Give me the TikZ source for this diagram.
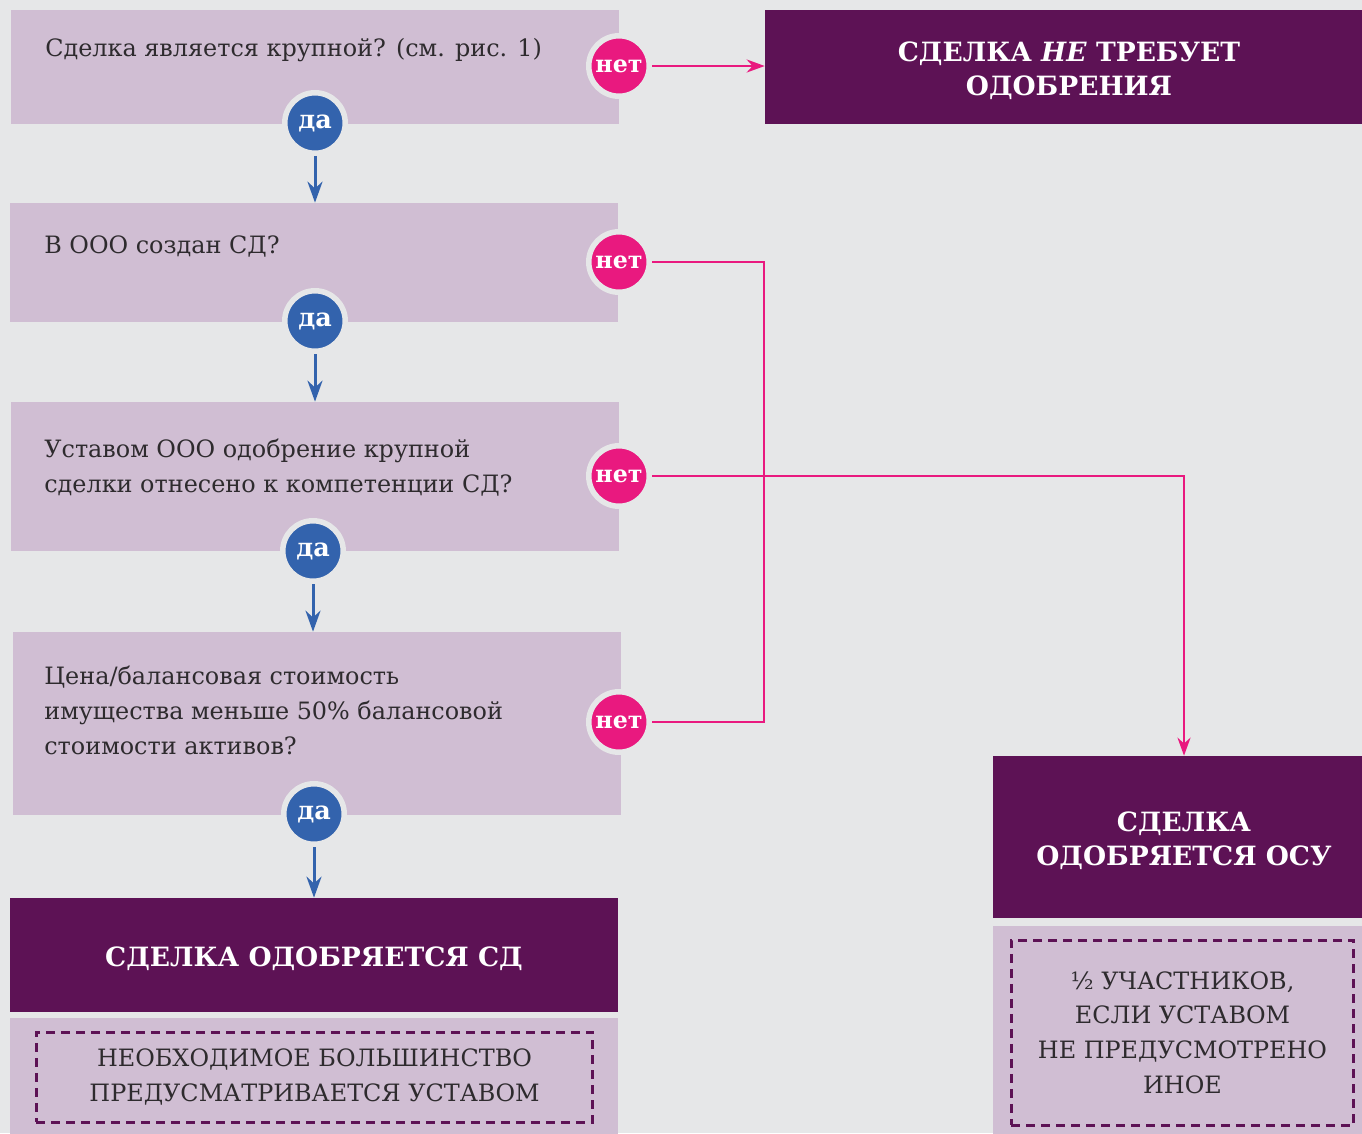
\documentclass[tikz,border=0pt]{standalone}
\usepackage{fontspec}
\setmainfont{DejaVu Serif}
\usetikzlibrary{arrows.meta}
\usetikzlibrary{positioning}
\definecolor{bggray}{HTML}{E6E7E8}
\definecolor{lilac}{HTML}{D0BED3}
\definecolor{plum}{HTML}{5D1255}
\definecolor{rosered}{HTML}{E9197F}
\definecolor{yesblue}{HTML}{3363AD}
\definecolor{ink}{HTML}{2E2B2E}

\begin{document}
\begin{tikzpicture}[x=0.02cm, y=-0.02cm,
	qbox/.style={fill=lilac, minimum width=12.16cm, inner sep=0},
	qtext/.style={anchor=west, align=left, text=ink, inner sep=0, font=\fontsize{13.6}{19.9}\selectfont},
	rbox/.style={fill=plum, minimum width=12.16cm, inner sep=0},
	rtext/.style={text=white, align=center, inner sep=0, yshift=-0.08cm, font=\bfseries\fontsize{15.1}{19.4}\selectfont},
	notebox/.style={draw=plum, line width=0.06cm, dash pattern=on 0.18cm off 0.12cm, text=ink, align=center, font=\fontsize{13.6}{19.8}\selectfont},
	nobtn/.style={circle, fill=rosered, draw=bggray, line width=0.11cm, minimum size=1.21cm, inner sep=0, text=white, font=\bfseries\fontsize{13.5}{13}\selectfont},
	yesbtn/.style={nobtn, fill=yesblue, font=\bfseries\fontsize{14.5}{13}\selectfont},
	noline/.style={draw=rosered, line width=0.05cm},
	yesline/.style={draw=yesblue, line width=0.06cm, -{Stealth[length=0.42cm, width=0.3cm]}}]
	\useasboundingbox (0,0) rectangle (1362,1133);
	\clip (0,0) rectangle (1362,1133);
	\fill[bggray] (0,0) rectangle (1362,1133);
	% questions
	\node[qbox, minimum height=2.28cm] (q1) at (315,67) {};
	\node[qbox, minimum height=2.38cm] (q2) at (314,262.5) {};
	\node[qbox, minimum height=2.98cm] (q3) at (315,476.5) {};
	\node[qbox, minimum height=3.66cm] (q4) at (317,723.5) {};
	\node[qtext] (t1) at (45,50) {Сделка является крупной? (см. рис. 1)};
	\node[qtext] (t2) at (44,246) {В ООО создан СД?};
	\node[qtext] (t3) at (44,468) {Уставом ООО одобрение крупной\\сделки отнесено к компетенции СД?};
	\node[qtext] (t4) at (44,710) {Цена/балансовая стоимость\\имущества меньше 50\% балансовой\\стоимости активов?};
	% outcomes
	\node[rbox, minimum height=2.28cm] (r1) at (314,955) {};
	\node[rtext] (r1t) at (r1) {СДЕЛКА ОДОБРЯЕТСЯ СД};
	\node[qbox, minimum height=2.64cm] (b1) at (314,1084) {};
	\node[notebox, minimum width=11.14cm, minimum height=1.8cm] (m1) at (314.5,1077) {НЕОБХОДИМОЕ БОЛЬШИНСТВО\\ПРЕДУСМАТРИВАЕТСЯ УСТАВОМ};
	\node[rbox, minimum height=2.28cm] (r0) at (1069,67) {};
	\node[rtext] (r0t) at (r0) {СДЕЛКА \textit{НЕ} ТРЕБУЕТ\\ОДОБРЕНИЯ};
	\node[rbox, minimum width=7.64cm, minimum height=3.24cm] (r2) at (1184,837) {};
	\node[rtext] (r2t) at (r2) {СДЕЛКА\\ОДОБРЯЕТСЯ ОСУ};
	\node[qbox, minimum width=7.64cm, minimum height=4.4cm] (b2) at (1184,1036) {};
	\node[notebox, minimum width=6.86cm, minimum height=3.7cm] (m2) at (1182.5,1032.5) {½ УЧАСТНИКОВ,\\ЕСЛИ УСТАВОМ\\НЕ ПРЕДУСМОТРЕНО\\ИНОЕ};
	% answers
	\node[nobtn] (no1) at (619,66) {нет};
	\node[nobtn] (no2) at (619,262) {нет};
	\node[nobtn] (no3) at (619,476) {нет};
	\node[nobtn] (no4) at (619,722) {нет};
	\node[yesbtn] (yes1) at (315,123) {да};
	\node[yesbtn] (yes2) at (315,321) {да};
	\node[yesbtn] (yes3) at (313,551) {да};
	\node[yesbtn] (yes4) at (314,814) {да};
	\draw[yesline] (yes1) -- (yes1 |- q2.north);
	\draw[yesline] (yes2) -- (yes2 |- q3.north);
	\draw[yesline] (yes3) -- (yes3 |- q4.north);
	\draw[yesline] (yes4) -- (yes4 |- r1.north);
	\coordinate (jn) at (764,476);
	\draw[noline, -{Stealth[length=0.36cm, width=0.26cm]}] (no1) -- (no1 -| r0.west);
	\draw[noline] (no2) -| (jn) |- (no4);
	\draw[noline, -{Stealth[length=0.36cm, width=0.26cm]}] (no3) -| (r2.north);
\end{tikzpicture}
\end{document}
